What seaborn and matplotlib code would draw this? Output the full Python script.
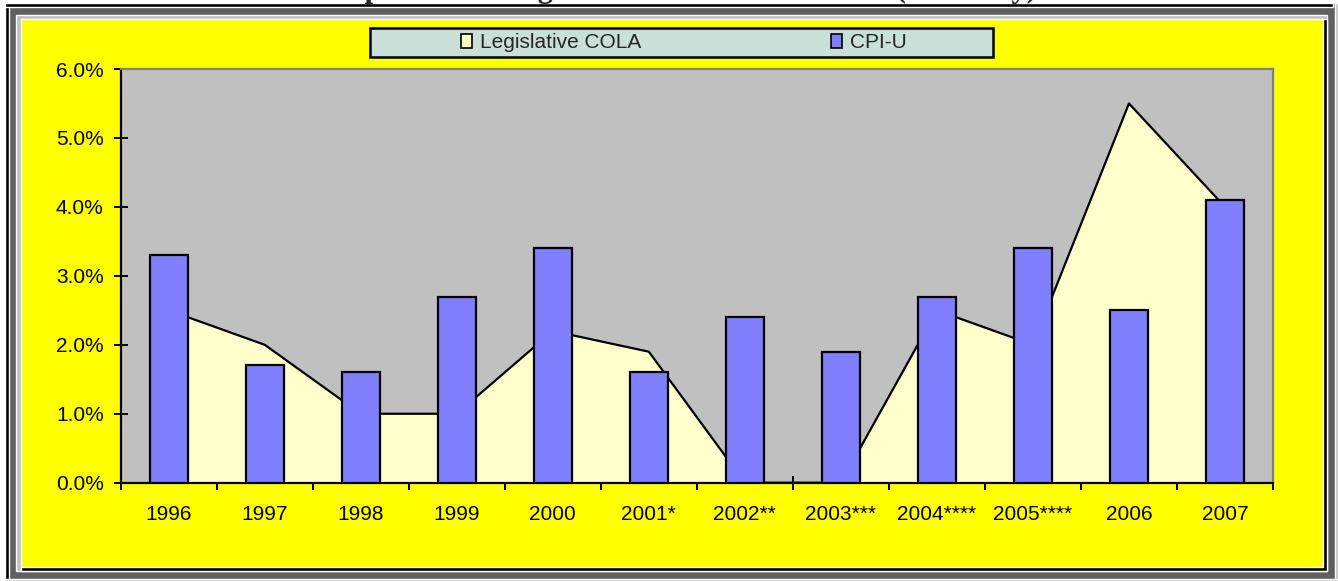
import numpy as np
import pandas as pd
import matplotlib
matplotlib.use("Agg")
import matplotlib.pyplot as plt
from matplotlib.patches import Rectangle, Patch
from matplotlib.ticker import FuncFormatter, FixedLocator
import seaborn as sns

# dati
years = ["1996", "1997", "1998", "1999", "2000", "2001*", "2002**",
         "2003***", "2004****", "2005****", "2006", "2007"]
cola = [2.5, 2.0, 1.0, 1.0, 2.2, 1.9, 0.0, 0.0, 2.5, 2.0, 5.5, 4.0]
cpi_u = [3.3, 1.7, 1.6, 2.7, 3.4, 1.6, 2.4, 1.9, 2.7, 3.4, 2.5, 4.1]
y_ticks = [0, 1, 2, 3, 4, 5, 6]
title = "Comparison of Legislative COLA and CPI-U (Annually)"

df = pd.DataFrame({"year": years, "cola": cola, "cpi": cpi_u})
df["pos"] = np.arange(len(df))

W, H = 1338, 581
FS = 15
sns.set_style("white")
plt.rcParams["font.family"] = ["Liberation Sans", "DejaVu Sans"]

fig = plt.figure(figsize=(W / 100, H / 100), dpi=100)
fig.patch.set_facecolor("white")


def px_rect(x0, y0, x1, y1, color, z=-10, **kw):
    # rettangolo in coordinate pixel dell'immagine (origine in alto a sinistra)
    r = Rectangle((x0 / W, 1 - y1 / H), (x1 - x0) / W, (y1 - y0) / H,
                  transform=fig.transFigure, facecolor=color, zorder=z, **kw)
    fig.add_artist(r)
    return r


# cornice in rilievo
px_rect(5, 3, W, H, "#606060", z=-20)
px_rect(5, 3, 9, H, "black", z=-19)
px_rect(5, 3, 1333, 7, "black", z=-19)
px_rect(1335, 3, W, H, "#c0c0c0", z=-19)
px_rect(5, 579, W, H, "#c0c0c0", z=-19)
px_rect(16, 15, 1327, 571, "#c0c0c0", z=-18)
px_rect(21, 19, 1327, 571, "black", z=-17)
px_rect(21, 19, 1323, 567, "#ffff00", z=-16)

# titolo (tagliato in alto come nell'originale)
fig.text(0.5, 1 + 3 / H, title, ha="center", va="baseline", fontsize=22,
         fontweight="bold", family=["Liberation Serif", "DejaVu Serif"])

ax = fig.add_axes([120.7 / W, (H - 482.7) / H, (1273 - 120.7) / W, (482.7 - 69) / H])
ax.set_facecolor("#c0c0c0")

ax.fill_between(df["pos"], df["cola"], color="#ffffcc", linewidth=0, zorder=1)
sns.lineplot(data=df, x="pos", y="cola", color="black", linewidth=1.6, ax=ax, zorder=2)
sns.barplot(data=df, x="pos", y="cpi", color="#8080ff", saturation=1, width=0.4,
            edgecolor="black", linewidth=1.6, ax=ax, zorder=3, native_scale=True)

ax.set_xlim(-0.5, len(years) - 0.5)
ax.set_ylim(0, 6)
ax.xaxis.set_major_locator(FixedLocator(np.arange(-0.5, len(years), 1)))
ax.xaxis.set_minor_locator(FixedLocator(df["pos"]))
ax.set_xticklabels([""] * (len(years) + 1))
ax.set_xticklabels(years, minor=True)
ax.set_yticks(y_ticks)
ax.yaxis.set_major_formatter(FuncFormatter(lambda v, p: f"{v:.1f}%"))
ax.set_xlabel("")
ax.set_ylabel("")

ax.tick_params(axis="both", which="major", direction="inout", length=9.5, width=1.4,
               color="black", labelsize=FS, labelcolor="black")
ax.tick_params(axis="y", which="major", pad=7.5, left=True)
ax.tick_params(axis="x", which="major", bottom=True, labelbottom=False)
ax.tick_params(axis="x", which="minor", length=0, pad=16, labelsize=FS, labelcolor="black")

for s in ["left", "bottom"]:
    ax.spines[s].set_color("black")
    ax.spines[s].set_linewidth(1.6)
for s in ["top", "right"]:
    ax.spines[s].set_color("#808080")
    ax.spines[s].set_linewidth(1.6)

# legenda
px_rect(370, 28, 993, 57, "#c8e0d8", z=5, edgecolor="black", linewidth=1.8)
handles = [Patch(facecolor="#ffffcc", edgecolor="black", linewidth=1.2),
           Patch(facecolor="#8080ff", edgecolor="black", linewidth=1.2)]
leg = fig.legend(handles, ["Legislative COLA", "CPI-U"], ncol=2, frameon=False,
                 loc="center left", bbox_to_anchor=(461 / W, 1 - 43 / H),
                 borderpad=0, borderaxespad=0, fontsize=FS, handlelength=0.53,
                 handleheight=0.67, handletextpad=0.38, columnspacing=9.1)
leg.set_zorder(6)

fig.savefig("out.png", dpi=100)
